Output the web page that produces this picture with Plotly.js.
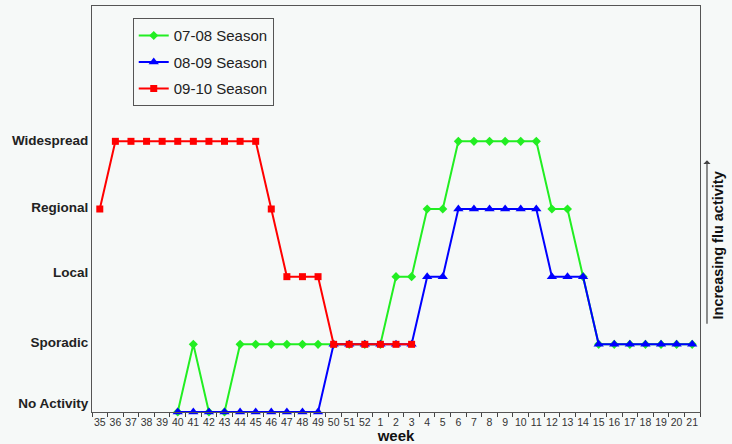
<!DOCTYPE html>
<html>
<head>
<meta charset="utf-8">
<script src="https://cdn.plot.ly/plotly-3.0.1.min.js"></script>
<style>html,body{margin:0;padding:0;background:#f6f9f8;}#chart{width:732px;height:444px;}</style>
</head>
<body>
<div id="chart"></div>
<script>
// Weeks on the x axis
const weeks = ['35','36','37','38','39','40','41','42','43','44','45','46','47','48','49','50','51','52',
               '1','2','3','4','5','6','7','8','9','10','11','12','13','14','15','16','17','18','19','20','21'];
// Activity levels (0..4)
const levelNames = ['No Activity','Sporadic','Local','Regional','Widespread'];
const levelValues = [0,1,2,3,4];
const seasonNames = ['07-08 Season','08-09 Season','09-10 Season'];

const season0708 = [null,null,null,null,null,
  0,1,0,0,1,1,1,1,1,1,1,1,1,
  1,2,2,3,3,4,4,4,4,4,4,3,3,2,1,1,1,1,1,1,1];
const season0809 = [null,null,null,null,null,
  0,0,0,0,0,0,0,0,0,0,1,1,1,
  1,1,1,2,2,3,3,3,3,3,3,2,2,2,1,1,1,1,1,1,1];
const season0910 = [3,4,4,4,4,4,4,4,4,4,4,3,2,2,2,1,1,1,
  1,1,1,null,null,null,null,null,null,null,null,null,null,null,null,null,null,null,null,null,null];

const styles = [
  {color:'#22ee22', symbol:'diamond', size:7},
  {color:'#0000ff', symbol:'triangle-up', size:9},
  {color:'#ff0000', symbol:'square', size:7}
];
const seriesData = [season0708, season0809, season0910];

const traces = seriesData.map((ys,i)=>({
  type:'scatter', mode:'lines+markers',
  x: weeks, y: ys, name: seasonNames[i],
  legendgroup: 'g'+i,
  line:{color:styles[i].color, width:2},
  marker:{color:styles[i].color, symbol:styles[i].symbol, size:styles[i].size},
  cliponaxis:false, connectgaps:false
}));

const FONT = 'Liberation Sans, Arial, sans-serif';
const labelNudge = [0.13,0.03,0.06,0.03,0.01];
const layout = {
  width:732, height:444,
  margin:{l:92, r:32, t:6, b:32},
  paper_bgcolor:'#f6f9f8', plot_bgcolor:'#f6f9f8',
  showlegend:true,
  legend:{x:0.067, y:0.97, xanchor:'left', yanchor:'top',
    bgcolor:'rgba(0,0,0,0)', bordercolor:'#555', borderwidth:1,
    font:{family:FONT, size:15, color:'#222'},
    traceorder:'grouped', tracegroupgap:4, itemwidth:30},
  xaxis:{type:'category', range:[-0.5, weeks.length-0.5],
    showline:true, linecolor:'#555', linewidth:1, mirror:true,
    ticks:'outside', ticklen:4, tickcolor:'#444', tickson:'boundaries',
    showgrid:false, zeroline:false,
    tickfont:{family:FONT, size:10.5, color:'#333'},
    tickangle:0,
    title:{text:'week', standoff:13, font:{family:FONT, size:15, color:'#111', weight:'bold'}}
  },
  yaxis:{range:[0,6], showline:true, linecolor:'#555', linewidth:1, mirror:true,
    ticks:'', showgrid:false, zeroline:false,
    tickvals: levelValues.map((v,i)=>v+labelNudge[i]), ticktext: levelNames,
    tickfont:{family:FONT, size:13.5, color:'#222', weight:'bold'}
  },
  annotations:[
    {xref:'paper', yref:'paper', x:1.0115, y:0.62, text:'', showarrow:true,
     axref:'pixel', ayref:'pixel', ax:0, ay:165, arrowhead:1, arrowsize:1, arrowwidth:1.2, arrowcolor:'#444'},
    {xref:'paper', yref:'paper', x:1.046, y:0.41, text:'Increasing flu activity', showarrow:false,
     textangle:-90, font:{family:FONT, size:14.5, color:'#111', weight:'bold'}}
  ]
};

Plotly.newPlot('chart', traces, layout, {displayModeBar:false, staticPlot:true});
</script>
</body>
</html>
